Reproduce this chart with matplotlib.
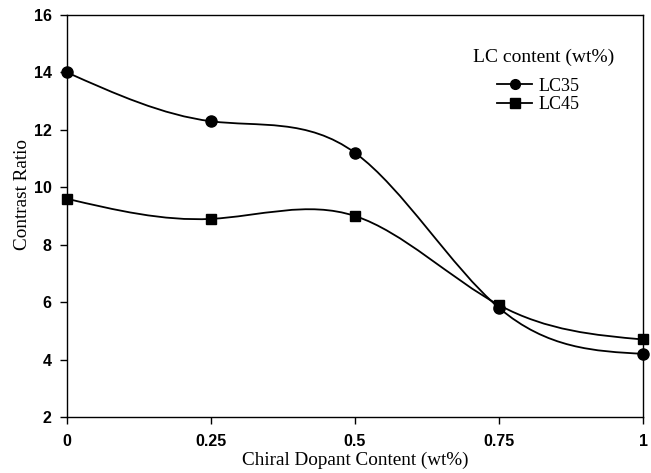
import numpy as np
import matplotlib
matplotlib.use("Agg")
import matplotlib.pyplot as plt
from matplotlib.path import Path
from matplotlib.patches import PathPatch
from matplotlib.lines import Line2D

# data
dopant = [0, 0.25, 0.5, 0.75, 1.0]
lc35 = [14.0, 12.3, 11.2, 5.8, 4.2]
lc45 = [9.6, 8.9, 9.0, 5.9, 4.7]
xticks = [0, 0.25, 0.5, 0.75, 1]
xticklabels = ["0", "0.25", "0.5", "0.75", "1"]
yticks = [2, 4, 6, 8, 10, 12, 14, 16]

W, H = 651, 473


def spline_path(x, y):
    # natural cubic spline, written out as bezier segments
    x = np.asarray(x, float)
    y = np.asarray(y, float)
    n = len(x)
    h = np.diff(x)
    A = np.zeros((n, n))
    b = np.zeros(n)
    A[0, 0] = A[-1, -1] = 1
    for i in range(1, n - 1):
        A[i, i - 1] = h[i - 1]
        A[i, i] = 2 * (h[i - 1] + h[i])
        A[i, i + 1] = h[i]
        b[i] = 6 * ((y[i + 1] - y[i]) / h[i] - (y[i] - y[i - 1]) / h[i - 1])
    M = np.linalg.solve(A, b)
    # first derivatives at the knots
    d = np.zeros(n)
    for i in range(n - 1):
        d[i] = (y[i + 1] - y[i]) / h[i] - h[i] * (2 * M[i] + M[i + 1]) / 6
    d[-1] = (y[-1] - y[-2]) / h[-1] + h[-1] * (M[-2] + 2 * M[-1]) / 6
    verts = [(x[0], y[0])]
    codes = [Path.MOVETO]
    for i in range(n - 1):
        verts += [(x[i] + h[i] / 3, y[i] + h[i] * d[i] / 3),
                  (x[i + 1] - h[i] / 3, y[i + 1] - h[i] * d[i + 1] / 3),
                  (x[i + 1], y[i + 1])]
        codes += [Path.CURVE4] * 3
    return Path(verts, codes)


fig = plt.figure(figsize=(W / 100, H / 100), dpi=100)
ax = fig.add_axes([67 / W, 1 - 417 / H, (643 - 67) / W, (417 - 15) / H])

for ys, mk, ms in [(lc35, "o", 8), (lc45, "s", 7.5)]:
    ax.add_patch(PathPatch(spline_path(dopant, ys), fill=False, lw=1.3,
                           edgecolor="black", clip_on=False))
    ax.plot(dopant, ys, ls="none", marker=mk, ms=ms, color="black", clip_on=False, zorder=3)

ax.set_xlim(0, 1)
ax.set_ylim(2, 16)
ax.set_xticks(xticks)
ax.set_xticklabels(xticklabels)
ax.set_yticks(yticks)
ax.tick_params(direction="out", length=5, width=1, labelsize=11.5, pad=6)
ax.tick_params(axis="x", pad=7)
for lab in ax.get_xticklabels() + ax.get_yticklabels():
    lab.set_family("Liberation Sans")
    lab.set_weight("bold")
for sp in ax.spines.values():
    sp.set_linewidth(1)

ax.set_xlabel("Chiral Dopant Content (wt%)", family="Liberation Serif", fontsize=13.8)
ax.xaxis.set_label_coords(0.5, -(452 - 417) / 402)
ax.set_ylabel("Contrast Ratio", family="Liberation Serif", fontsize=13.8)
ax.yaxis.set_label_coords((31 - 67) / 576, (417 - 195) / 402)

# legend title as its own text, entries below it
ax.text((544 - 67) / 576, (417 - 57) / 402, "LC content (wt%)", transform=ax.transAxes,
        ha="center", va="center", family="Liberation Serif", fontsize=14)
handles = [Line2D([], [], color="black", lw=1.3, marker="o", ms=7),
           Line2D([], [], color="black", lw=1.3, marker="s", ms=6.5)]
ax.legend(handles, ["LC35", "LC45"], loc="center left",
          bbox_to_anchor=((497 - 67) / 576, (417 - 95.5) / 402),
          frameon=False, borderpad=0, borderaxespad=0, handlelength=1.95,
          handletextpad=0.35, labelspacing=0.1,
          prop={"family": "Liberation Serif", "size": 13})

fig.savefig("out.png", dpi=100)
